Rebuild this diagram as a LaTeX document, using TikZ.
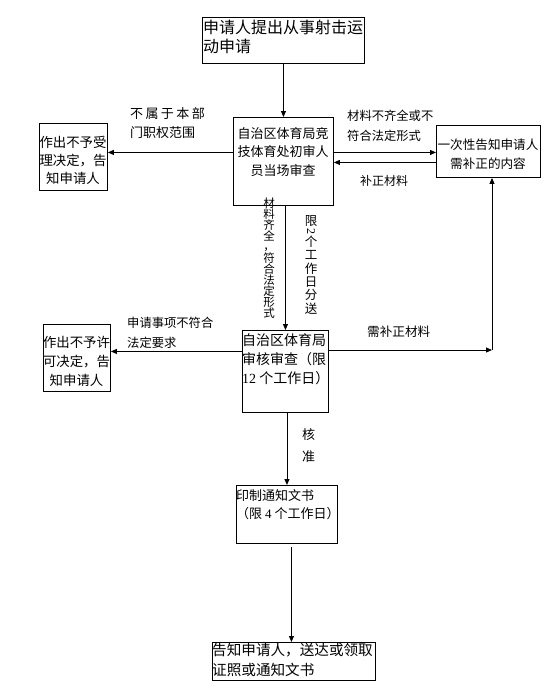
\documentclass[tikz,border=0pt]{standalone}
\usepackage{fontspec}
\setmainfont{Noto Sans CJK SC}
\newfontfamily\ser{Liberation Serif}
\usetikzlibrary{arrows.meta,calc}
\newcommand{\fs}[2]{\fontsize{#1pt}{#2pt}\selectfont}
\begin{document}
\begin{tikzpicture}[x=1pt,y=-1pt,
  box/.style={draw, line width=0.9pt, inner sep=0pt, anchor=north west},
  tx/.style={inner sep=0pt},
  arr/.style={line width=0.9pt, -{Triangle[length=6pt,width=5pt]}}]
\useasboundingbox (0,0) rectangle (554,693);
% boxes
\node[box, minimum width=162pt, minimum height=46pt] (b1) at (202,17) {};
\node[box, minimum width=100pt, minimum height=88pt] (b2) at (233,117) {};
\node[box, minimum width=104pt, minimum height=52pt] (R) at (436,125) {};
\node[box, minimum width=68pt, minimum height=67pt] (L1) at (39,123) {};
\node[box, minimum width=86pt, minimum height=82pt] (b3) at (242,330) {};
\node[box, minimum width=67pt, minimum height=67pt] (L2) at (43,324) {};
\node[box, minimum width=101pt, minimum height=58pt] (b4) at (236,485) {};
\node[box, minimum width=163pt, minimum height=38pt] (b5) at (212,642) {};
% box texts
\node[tx, anchor=north west, align=left, font=\fs{16}{19}] (t1) at (203,20) {申请人提出从事射击运\\动申请};
\node[tx, align=center, font=\fs{13}{18.5}] (t2) at (283,152) {自治区体育局竞\\技体育处初审人\\员当场审查};
\node[tx, align=center, font=\fs{12.6}{18.5}] (tR) at (488,154) {一次性告知申请人\\需补正的内容};
\node[tx, align=center, font=\fs{13.4}{18}] (tL1) at (73,160) {作出不予受\\理决定，告\\知申请人};
\node[tx, align=center, font=\fs{13.4}{19}] (tL2) at (76.5,361) {作出不予许\\可决定，告\\知申请人};
\node[tx, anchor=north west, align=left, font=\fs{14}{19}] (t3) at (242,333.5) {自治区体育局\\审核审查（限\\{\ser 12} 个工作日）};
\node[tx, anchor=north west, align=left, font=\fs{13}{18}] (t4) at (236,489) {印制通知文书\\（限 {\ser 4} 个工作日）};
\node[tx, anchor=north west, align=left, font=\fs{14.6}{19.5}] (t5) at (212,643.5) {告知申请人，送达或领取\\证照或通知文书};
% connectors
\coordinate (c) at (492,350);
\draw[arr] (b1.south) -- (b2.north);
\draw[arr] ($(b2.west)+(0,-9)$) coordinate (p1) -- (p1 -| L1.east);
\draw[arr] ($(b2.east)+(0,-9)$) coordinate (p2) -- (p2 -| R.west);
\draw[arr] ($(R.west)+(0,11)$) coordinate (p3) -- (p3 -| b2.east);
\draw[arr] (b2.south -| b3.north) -- (b3.north);
\draw[arr] ($(b3.west)+(0,-20)$) coordinate (p4) -- (p4 -| L2.east);
\draw[arr] (c -| b3.east) -- (c);
\draw[arr] (c) -- (c |- R.south);
\draw[arr] (b3.south -| b4.north) -- (b4.north);
\draw[arr] ($(b4.south)+(4.5,3)$) coordinate (p5) -- (p5 |- b5.north);
% labels
\node[tx, anchor=north west, align=left, font=\fs{13}{19}] (l1) at (130,107) {不\hspace{2.4pt}属\hspace{2.4pt}于\hspace{2.4pt}本\hspace{2.4pt}部\\门职权范围};
\node[tx, anchor=north west, align=left, font=\fs{12.3}{20}] (l2) at (347,109.5) {材料不齐全或不\\符合法定形式};
\node[tx, anchor=west, font=\fs{12}{12}] (l3) at (360,181) {补正材料};
\node[tx, anchor=west, font=\fs{12.6}{12.6}] (l4) at (367,332) {需补正材料};
\node[tx, anchor=north west, align=left, font=\fs{12.3}{20}] (l5) at (127,316.5) {申请事项不符合\\法定要求};
\node[tx, align=center, font=\fs{13}{22}] (l6) at (308.5,446) {核\\准};
\node[tx, align=center, font=\fs{11.5}{10.9}] (l7) at (269,258) {材\\料\\齐\\全\\，\\符\\合\\法\\定\\形\\式};
\node[tx, font=\fs{12.5}{12.5}] (l8a) at (311,221) {限};
\node[tx, rotate=-90, font=\ser\fs{12}{12}] (l8b) at (311,231) {2};
\node[tx, align=center, font=\fs{12.5}{13.4}] (l8c) at (311,275) {个\\工\\作\\日\\分\\送};
\end{tikzpicture}
\end{document}
